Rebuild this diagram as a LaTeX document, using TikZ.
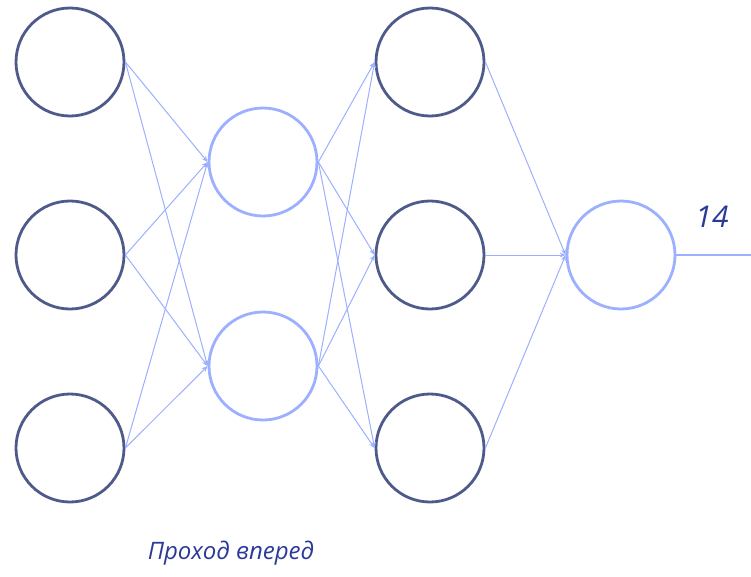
\documentclass[tikz,border=0pt]{standalone}
\usepackage{fontspec}
\setmainfont{Open Sans}
\usetikzlibrary{arrows.meta, positioning}
\definecolor{neurodark}{HTML}{4E5A8A}
\definecolor{neurolight}{HTML}{9DAFFF}
\definecolor{labelblue}{HTML}{2B3A99}

\begin{document}
\begin{tikzpicture}[
  x=1pt, y=-1pt,
  neuron/.style={circle, minimum size=108pt, inner sep=0pt, line width=2.8pt},
  darkn/.style={neuron, draw=neurodark},
  lightn/.style={neuron, draw=neurolight},
  link/.style={draw=neurolight, line width=1pt, -{Stealth[length=6pt, width=5pt]}},
  >=Stealth
]
  \useasboundingbox (0,0) rectangle (751,576);

  % Input layer
  \foreach \y [count=\i] in {62,255,448}
    \node[darkn] (in\i) at (70,\y) {};

  % First hidden layer
  \foreach \y [count=\i] in {162,366}
    \node[lightn] (ha\i) at (263,\y) {};

  % Second hidden layer
  \foreach \y [count=\i] in {62,255,448}
    \node[darkn] (hb\i) at (430,\y) {};

  % Output neuron
  \node[lightn] (out) at (621,255) {};
  \coordinate (outend) at (751,255);

  % Connections
  \foreach \i in {1,2,3}
    \foreach \j in {1,2}
      \draw[link] (in\i.east) -- (ha\j.west);
  \foreach \i in {1,2}
    \foreach \j in {1,2,3}
      \draw[link] (ha\i.east) -- (hb\j.west);
  \foreach \i in {1,2,3}
    \draw[link] (hb\i.east) -- (out.west);
  \draw[neurolight, line width=1.3pt] (out.east) -- (outend);

  % Labels
  \node[font=\itshape\fontsize{30}{34}\selectfont, text=labelblue] (value) at (712,217) {14};
  \node[font=\itshape\fontsize{24}{27}\selectfont, text=labelblue] (caption) at (231,553) {Проход вперед};
\end{tikzpicture}
\end{document}
